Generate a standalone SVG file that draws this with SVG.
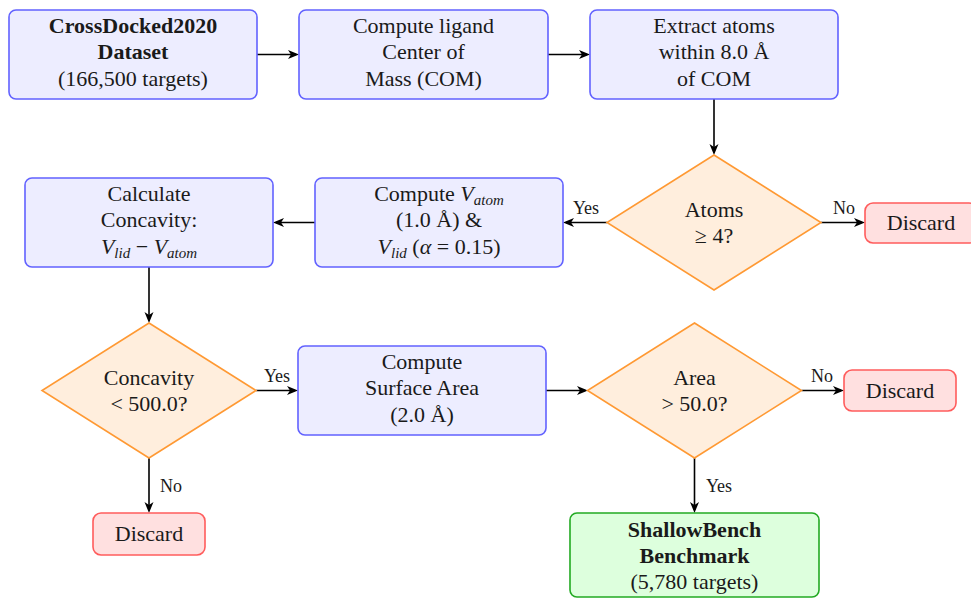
<svg xmlns="http://www.w3.org/2000/svg" width="971" height="598" viewBox="0 0 971 598">
<style>
  .box{fill:#EDEDFF;stroke:#6262FF;stroke-width:1.6}
  .dec{fill:#FFEEDD;stroke:#FF9933;stroke-width:1.6}
  .dis{fill:#FFE0E0;stroke:#FF5C5C;stroke-width:1.6}
  .fin{fill:#DDFFDD;stroke:#22AA22;stroke-width:1.6}
  text{font-family:"Liberation Serif","Times New Roman",serif;font-size:22px;fill:#1a1a1a;text-anchor:middle}
  .b{font-weight:bold}
  .lbl{font-size:18px}
  .m{font-style:italic}
  .s{font-style:italic;font-size:15px}
  #connectors line{stroke:#000;stroke-width:1.6;marker-end:url(#ah)}
</style>
<defs>
  <marker id="ah" markerUnits="userSpaceOnUse" markerWidth="12" markerHeight="10" refX="8" refY="4.5" orient="auto">
    <path d="M0,0 L11,4.5 L0,9 L3,4.5 z" fill="#000"/>
  </marker>
</defs>

<g id="connectors">
  <line x1="257" y1="54.5" x2="296" y2="54.5"/>
  <line x1="548" y1="54.5" x2="587" y2="54.5"/>
  <line x1="714" y1="99" x2="714" y2="152"/>
  <line x1="607" y1="222.5" x2="566" y2="222.5"/>
  <line x1="821" y1="222.5" x2="862" y2="222.5"/>
  <line x1="315" y1="222.5" x2="276" y2="222.5"/>
  <line x1="149" y1="267" x2="149" y2="320"/>
  <line x1="256" y1="390.5" x2="295" y2="390.5"/>
  <line x1="546" y1="390.5" x2="585" y2="390.5"/>
  <line x1="801.5" y1="390.5" x2="841" y2="390.5"/>
  <line x1="149" y1="458" x2="149" y2="510"/>
  <line x1="694.5" y1="458" x2="694.5" y2="510"/>
  <text class="lbl" x="586" y="214">Yes</text>
  <text class="lbl" x="844" y="214">No</text>
  <text class="lbl" x="277" y="382">Yes</text>
  <text class="lbl" x="822" y="382">No</text>
  <text class="lbl" x="171" y="492">No</text>
  <text class="lbl" x="719" y="492">Yes</text>
</g>

<g id="dataset">
  <rect class="box" x="9" y="10" width="248" height="89" rx="7"/>
  <text class="b" x="133" y="32.5">CrossDocked2020</text>
  <text class="b" x="133" y="59">Dataset</text>
  <text x="133" y="85.5">(166,500 targets)</text>
</g>

<g id="com">
  <rect class="box" x="299" y="10" width="249" height="89" rx="7"/>
  <text x="423.5" y="32.5">Compute ligand</text>
  <text x="423.5" y="59">Center of</text>
  <text x="423.5" y="85.5">Mass (COM)</text>
</g>

<g id="extract">
  <rect class="box" x="590" y="10" width="248" height="89" rx="7"/>
  <text x="714" y="32.5">Extract atoms</text>
  <text x="714" y="59">within 8.0 Å</text>
  <text x="714" y="85.5">of COM</text>
</g>

<g id="atoms-check">
  <polygon class="dec" points="714,155 821,222.5 714,290 607,222.5"/>
  <text x="714" y="217">Atoms</text>
  <text x="714" y="242.5">≥ 4?</text>
</g>

<g id="discard1">
  <rect class="dis" x="865" y="203" width="112" height="40" rx="8"/>
  <text x="921" y="230">Discard</text>
</g>

<g id="volumes">
  <rect class="box" x="315" y="178" width="248" height="89" rx="7"/>
  <text x="439" y="200.5">Compute <tspan class="m">V</tspan><tspan class="s" dy="4">atom</tspan></text>
  <text x="439" y="227">(1.0 Å) &amp;</text>
  <text x="439" y="253.5"><tspan class="m">V</tspan><tspan class="s" dy="4">lid</tspan><tspan dy="-4"> (</tspan><tspan class="m">α</tspan> = 0.15)</text>
</g>

<g id="concavity">
  <rect class="box" x="25" y="178" width="248" height="89" rx="7"/>
  <text x="149" y="200.5">Calculate</text>
  <text x="149" y="227">Concavity:</text>
  <text x="149" y="253.5"><tspan class="m">V</tspan><tspan class="s" dy="4">lid</tspan><tspan dy="-4"> − </tspan><tspan class="m">V</tspan><tspan class="s" dy="4">atom</tspan></text>
</g>

<g id="concavity-check">
  <polygon class="dec" points="149,323 256,390.5 149,458 42,390.5"/>
  <text x="149" y="385">Concavity</text>
  <text x="149" y="410.5">&lt; 500.0?</text>
</g>

<g id="surface">
  <rect class="box" x="298" y="346" width="248" height="89" rx="7"/>
  <text x="422" y="368.5">Compute</text>
  <text x="422" y="395">Surface Area</text>
  <text x="422" y="421.5">(2.0 Å)</text>
</g>

<g id="area-check">
  <polygon class="dec" points="694.5,323 801.5,390.5 694.5,458 587.5,390.5"/>
  <text x="694.5" y="385">Area</text>
  <text x="694.5" y="410.5">&gt; 50.0?</text>
</g>

<g id="discard2">
  <rect class="dis" x="844" y="370" width="112" height="41" rx="8"/>
  <text x="900" y="397.5">Discard</text>
</g>

<g id="discard3">
  <rect class="dis" x="93" y="513" width="112" height="42" rx="8"/>
  <text x="149" y="541">Discard</text>
</g>

<g id="shallowbench">
  <rect class="fin" x="570" y="513" width="249" height="84" rx="7"/>
  <text class="b" x="694.5" y="537">ShallowBench</text>
  <text class="b" x="694.5" y="563">Benchmark</text>
  <text x="694.5" y="588.5">(5,780 targets)</text>
</g>
</svg>
